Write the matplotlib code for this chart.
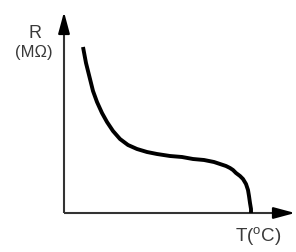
import matplotlib
matplotlib.use("Agg")
import matplotlib.pyplot as plt

plt.rcParams['font.family'] = ['Liberation Sans', 'DejaVu Sans']
plt.rcParams['mathtext.fontset'] = 'custom'
plt.rcParams['mathtext.rm'] = 'Liberation Sans'

# curve (T, R) in arbitrary units
T = [19, 22, 26, 29, 33, 38, 43, 49, 56, 64, 73, 83, 93, 106, 118, 129, 140, 150, 156, 162, 166, 169, 172, 176, 179, 182, 184, 185, 186, 187, 187]
R = [166, 150, 134, 122, 111, 100, 91, 82, 74, 68, 64, 61, 59, 57, 56, 54, 53, 51, 49, 47, 45, 43, 40, 37, 34, 29, 23, 17, 10, 4, 0]

x_label = "T($^{\\mathrm{o}}$C)"
y_label = "R"
y_unit = "(M\u03a9)"

fig = plt.figure(figsize=(2.96, 2.53), dpi=100)
ax = fig.add_axes([0, 0, 1, 1])
ax.set_xlim(-64, 232)
ax.set_ylim(-39, 214)
ax.axis('off')

axis_col = '#333333'
ax.plot([0, 214], [0, 0], color=axis_col, lw=1.5, solid_capstyle='butt')
ax.plot([0, 0], [0, 186], color=axis_col, lw=1.5, solid_capstyle='butt')
ax.annotate('', xy=(231, 0), xytext=(212, 0),
            arrowprops=dict(arrowstyle='-|>,head_length=1.3,head_width=0.35', color='black', lw=1.5, shrinkA=0, shrinkB=0))
ax.annotate('', xy=(0, 201), xytext=(0, 184),
            arrowprops=dict(arrowstyle='-|>,head_length=1.3,head_width=0.35', color='black', lw=1.5, shrinkA=0, shrinkB=0))

ax.plot(T, R, color='black', lw=2.8, solid_capstyle='butt', solid_joinstyle='round')

ax.text(-35, 176, y_label, fontsize=13, color='#3a3a3a', ha='left', va='baseline')
ax.text(-49, 157, y_unit, fontsize=12, color='#3a3a3a', ha='left', va='baseline')
ax.text(171, -28, x_label, fontsize=13.5, color='#3a3a3a', ha='left', va='baseline')

fig.savefig('out.png', dpi=100)
